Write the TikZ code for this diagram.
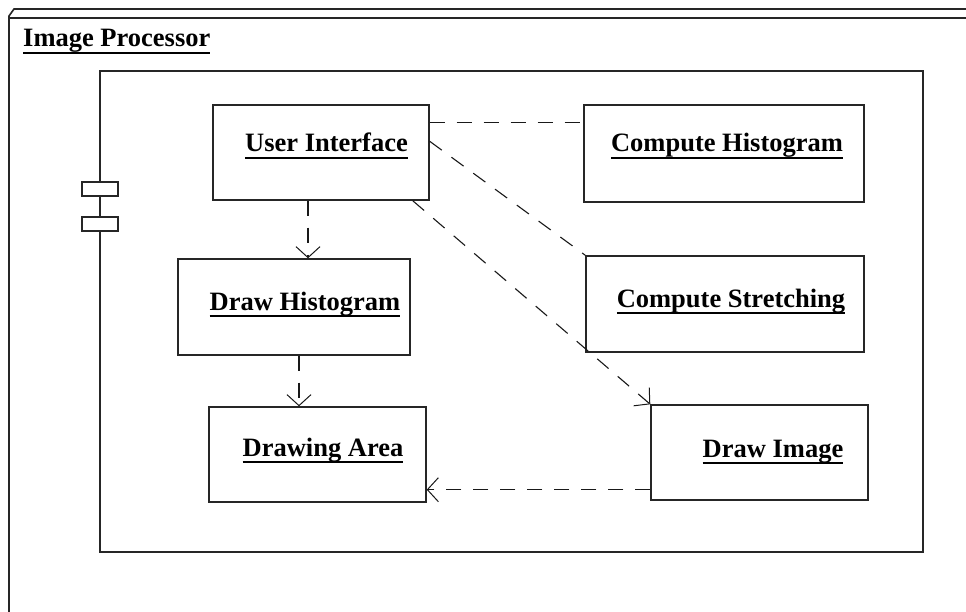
\documentclass[tikz,border=0pt]{standalone}
\usepackage{fontspec}
\setmainfont{Liberation Serif}
\usetikzlibrary{arrows.meta}
\newsavebox\ulsave
\newcommand\ultext[1]{\sbox\ulsave{#1}\rlap{\vrule height -4.6pt depth 7.2pt width \wd\ulsave}\usebox\ulsave}
\begin{document}
\begin{tikzpicture}[x=1pt,y=-1pt,
  box/.style={draw=black!85,line width=1.4pt,rectangle,inner sep=0pt,fill=white},
  lbl/.style={font=\fontsize{26.5}{30}\selectfont\bfseries,inner sep=0pt,anchor=base},
  dep/.style={draw=black!90,line width=1.1pt,dash pattern=on 15pt off 12pt},
  arr/.style={dep,-{Straight Barb[length=11pt,width=24pt,line width=1pt]}}]
\useasboundingbox (0,0) rectangle (966,612);
% outer 3D node frame
\draw[line width=1.6pt,draw=black!85] (966,9) -- (14,9) -- (9,16) -- (9,612);
\draw[line width=1.6pt,draw=black!85] (9,18) -- (966,18);
\node[lbl,anchor=base west] (title) at (23,47) {\ultext{Image Processor}};
% component
\node[box,minimum width=823pt,minimum height=481pt] (comp) at (511.5,311.5) {};
\node[box,line width=1.2pt,minimum width=36pt,minimum height=14pt] (ic1) at (100,189) {};
\node[box,line width=1.2pt,minimum width=36pt,minimum height=14pt] (ic2) at (100,224) {};
% boxes
\node[box,minimum width=216pt,minimum height=95pt] (ui) at (321,152.5) {};
\node[box,minimum width=280pt,minimum height=97pt] (ch) at (724,153.5) {};
\node[box,minimum width=278pt,minimum height=96pt] (cs) at (725,304) {};
\node[box,minimum width=232pt,minimum height=96pt] (dh) at (294,307) {};
\node[box,minimum width=217pt,minimum height=95pt] (da) at (317.5,454.5) {};
\node[box,minimum width=217pt,minimum height=95pt] (di) at (759.5,452.5) {};
% labels
\node[lbl] (uil) at (326.5,152) {\ultext{User Interface}};
\node[lbl] (chl) at (727,152) {\ultext{Compute Histogram}};
\node[lbl] (csl) at (731,307) {\ultext{Compute Stretching}};
\node[lbl] (dhl) at (305,310) {\ultext{Draw Histogram}};
\node[lbl] (dal) at (323,456) {\ultext{Drawing Area}};
\node[lbl] (dil) at (773,457) {\ultext{Draw Image}};
% connectors
\coordinate (dis) at ([yshift=11pt]di.south west);
\draw[dep] ([yshift=-18pt]ui.north east) -- ([yshift=-18pt]ch.north west);
\draw[dep] ([yshift=-37pt]ui.north east) -- (cs.north west);
\draw[arr] ([xshift=-17pt]ui.south east) -- (di.north west);
\draw[arr] ([xshift=-13pt]ui.south) -- ([xshift=-13pt]ui.south |- dh.north);
\draw[arr] ([xshift=5pt]dh.south) -- ([xshift=5pt]dh.south |- da.north);
\draw[arr] (dis) -- (da.east |- dis);
\end{tikzpicture}
\end{document}
